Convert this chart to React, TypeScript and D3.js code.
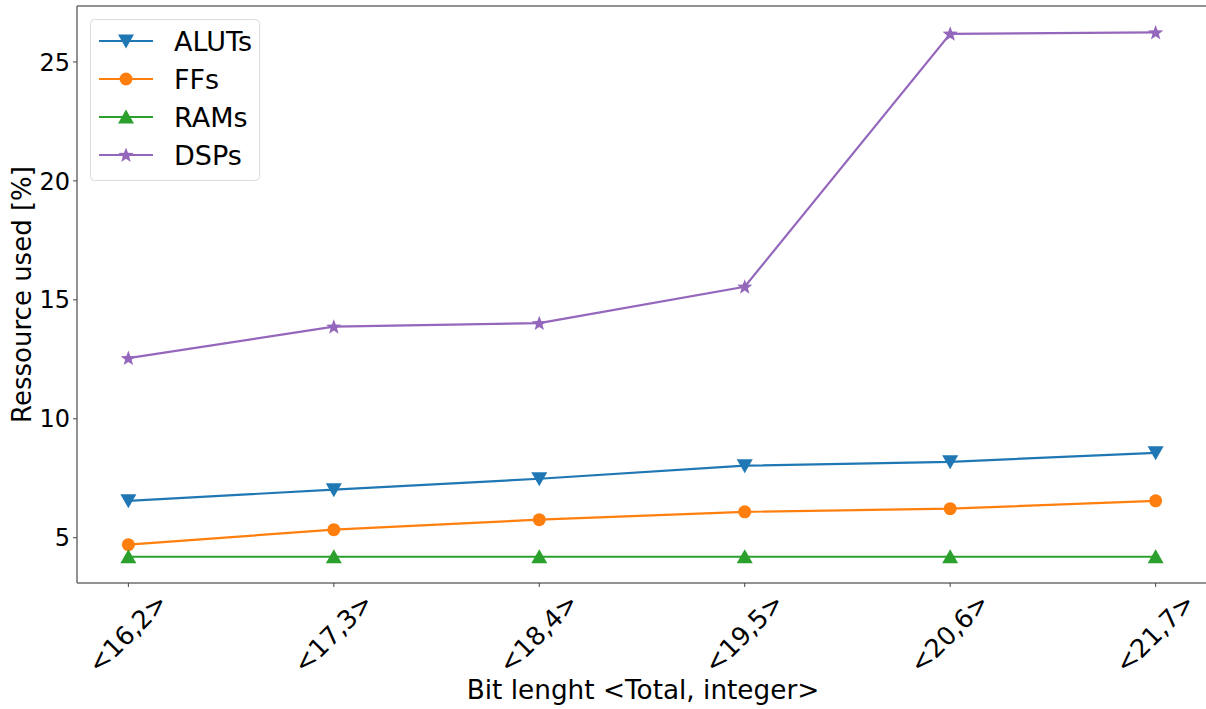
import React from "react";
import * as d3 from "d3";

const categories = ["<16,2>", "<17,3>", "<18,4>", "<19,5>", "<20,6>", "<21,7>"];
const aluts = [6.55, 7.02, 7.48, 8.03, 8.19, 8.57];
const ffs = [4.71, 5.34, 5.76, 6.09, 6.22, 6.55];
const rams = [4.2, 4.2, 4.2, 4.2, 4.2, 4.2];
const dsps = [12.55, 13.87, 14.02, 15.55, 26.18, 26.24];
const yTicks = [5, 10, 15, 20, 25];
const seriesNames = ["ALUTs", "FFs", "RAMs", "DSPs"];
const seriesColors = ["#1f77b4", "#ff7f0e", "#2ca02c", "#9467bd"];
const seriesMarkers = ["tri_down", "circle", "tri_up", "star"];

const W = 1206;
const H = 709;
const L = 77;
const R = 1207;
const T = 6;
const B = 583;
const FONT = "DejaVu Sans, sans-serif";

function starPath(r: number) {
  const pts: string[] = [];
  const inner = r * 0.42;
  for (let i = 0; i < 10; i++) {
    const ang = -Math.PI / 2 + (i * Math.PI) / 5;
    const rr = i % 2 === 0 ? r : inner;
    pts.push(`${(rr * Math.cos(ang)).toFixed(2)},${(rr * Math.sin(ang)).toFixed(2)}`);
  }
  return "M" + pts.join("L") + "Z";
}

function Marker({ kind, x, y, color }: { kind: string; x: number; y: number; color: string }) {
  if (kind === "circle") return <circle cx={x} cy={y} r={6.5} fill={color} />;
  if (kind === "tri_down")
    return <path d="M-8,-6.5L8,-6.5L0,7.5Z" transform={`translate(${x},${y})`} fill={color} />;
  if (kind === "tri_up")
    return <path d="M-8,6.5L8,6.5L0,-7.5Z" transform={`translate(${x},${y})`} fill={color} />;
  return <path d={starPath(8)} transform={`translate(${x},${y + 0.5})`} fill={color} />;
}

export default function App() {
  const x = d3.scaleLinear().domain([-0.25, 5.25]).range([L, R]);
  const y = d3.scaleLinear().domain([3.097, 27.35]).range([B, T]);
  const data = [aluts, ffs, rams, dsps];
  const line = d3
    .line<number>()
    .x((_, i) => x(i))
    .y((d) => y(d));

  return (
    <svg width={W} height={H} style={{ position: "absolute", left: 0, top: 0, background: "#fff" }}>
      <rect x={0} y={0} width={W} height={H} fill="#fff" />
      {data.map((s, k) => (
        <g key={k}>
          <path d={line(s) || ""} fill="none" stroke={seriesColors[k]} strokeWidth={2.2} />
          {s.map((v, i) => (
            <Marker key={i} kind={seriesMarkers[k]} x={x(i)} y={y(v)} color={seriesColors[k]} />
          ))}
        </g>
      ))}
      {/* spines */}
      <g stroke="#6e6e6e" strokeWidth={1.5} fill="none">
        <line x1={L} y1={T} x2={W} y2={T} />
        <line x1={L} y1={B} x2={W} y2={B} />
        <line x1={L} y1={T} x2={L} y2={B} />
      </g>
      {/* y ticks */}
      {yTicks.map((t) => (
        <g key={t}>
          <line x1={L - 4} x2={L} y1={y(t)} y2={y(t)} stroke="#444" strokeWidth={1} />
          <text x={L - 7} y={y(t)} dy="0.36em" textAnchor="end" fontFamily={FONT} fontSize={24} fill="#000">
            {t}
          </text>
        </g>
      ))}
      {/* x ticks */}
      {categories.map((c, i) => (
        <g key={c}>
          <line x1={x(i)} x2={x(i)} y1={B} y2={B + 4} stroke="#444" strokeWidth={1} />
          <text
            transform={`translate(${x(i) - 1},${B + 50}) rotate(-45)`}
            textAnchor="middle"
            dy="0.36em"
            fontFamily={FONT}
            fontSize={25.5}
            fill="#000"
          >
            {c}
          </text>
        </g>
      ))}
      <text x={643} y={699} textAnchor="middle" fontFamily={FONT} fontSize={26.3} fill="#000">
        Bit lenght &lt;Total, integer&gt;
      </text>
      <text
        transform={`translate(31,${(T + B) / 2}) rotate(-90)`}
        textAnchor="middle"
        fontFamily={FONT}
        fontSize={26}
        fill="#000"
      >
        Ressource used [%]
      </text>
      {/* legend */}
      <rect x={90.5} y={19.5} width={169} height={161} rx={4} fill="#fff" fillOpacity={0.8} stroke="#dcdcdc" strokeWidth={1} />
      {seriesNames.map((n, k) => {
        const ly = 41 + k * 38;
        return (
          <g key={n}>
            <line x1={99} x2={153} y1={ly} y2={ly} stroke={seriesColors[k]} strokeWidth={2.2} />
            <Marker kind={seriesMarkers[k]} x={126} y={ly} color={seriesColors[k]} />
            <text x={174} y={ly} dy="0.36em" fontFamily={FONT} fontSize={27} fill="#000">
              {n}
            </text>
          </g>
        );
      })}
    </svg>
  );
}
